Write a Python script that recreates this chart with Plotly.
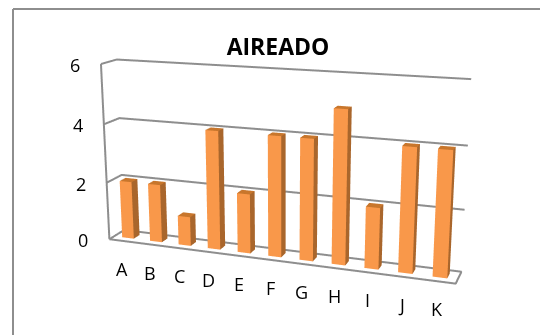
import numpy as np
import plotly.graph_objects as go

# Chart data
categories = ["A", "B", "C", "D", "E", "F", "G", "H", "I", "J", "K"]
values = [2, 2, 1, 4, 2, 4, 4, 5, 2, 4, 4]
value_ticks = [0, 2, 4, 6]
title = "AIREADO"

# Column footprint inside one category slot and the floor depth
BAR_HALF_WIDTH = 0.21
BAR_FRONT, BAR_BACK = 0.32, 0.72

# Homogeneous view transform: (category, depth, value, 1) -> scene x, scene z, camera distance
VIEW = np.array([
    [0.156448, 0.056194, -0.000473, -0.854564],
    [-0.014564, 0.039477, 0.151053, -0.381542],
    [-0.024094, 0.062468, -0.016746, 2.151518],
])
EYE_DISTANCE = 2.0

GREY = "#8E8E8E"
FONT = "Open Sans"


def to_scene(cat, depth, val):
    sx, sz, w = VIEW @ np.array([cat, depth, val, 1.0])
    return float(sx), float(w - EYE_DISTANCE), float(sz)


def quads(faces):
    """Triangulated mesh arguments for a list of four-cornered faces."""
    xs, ys, zs, i, j, k = [], [], [], [], [], []
    for face in faces:
        base = len(xs)
        for corner in face:
            sx, sy, sz = to_scene(*corner)
            xs.append(sx)
            ys.append(sy)
            zs.append(sz)
        i += [base, base]
        j += [base + 1, base + 2]
        k += [base + 2, base + 3]
    return dict(x=xs, y=ys, z=zs, i=i, j=j, k=k)


front, side, top = [], [], []
for idx, val in enumerate(values):
    left = idx + 0.5 - BAR_HALF_WIDTH
    right = idx + 0.5 + BAR_HALF_WIDTH
    front.append([(left, BAR_FRONT, 0), (right, BAR_FRONT, 0), (right, BAR_FRONT, val), (left, BAR_FRONT, val)])
    side.append([(right, BAR_FRONT, 0), (right, BAR_BACK, 0), (right, BAR_BACK, val), (right, BAR_FRONT, val)])
    top.append([(left, BAR_FRONT, val), (right, BAR_FRONT, val), (right, BAR_BACK, val), (left, BAR_BACK, val)])

fig = go.Figure()
flat_light = dict(ambient=1, diffuse=0, specular=0, roughness=1, fresnel=0)
for faces, colour in ((front, "#F9984A"), (side, "#A9662C"), (top, "#C8762C")):
    fig.add_trace(go.Mesh3d(color=colour, flatshading=True, lighting=flat_light, hoverinfo="skip", **quads(faces)))

# Floor outline, left wall edge and value gridlines
line_x, line_y, line_z = [], [], []


def polyline(*corners):
    for corner in corners:
        sx, sy, sz = to_scene(*corner)
        line_x.append(sx)
        line_y.append(sy)
        line_z.append(sz)
    line_x.append(None)
    line_y.append(None)
    line_z.append(None)


n = len(categories)
polyline((0, 0, 0), (n, 0, 0), (n, 1, 0), (0, 1, 0), (0, 0, 0))
polyline((0, 0, 0), (0, 0, value_ticks[-1]))
for tick in value_ticks:
    polyline((0, 0, tick), (0, 1, tick), (n, 1, tick))
fig.add_trace(go.Scatter3d(x=line_x, y=line_y, z=line_z, mode="lines",
                           line=dict(color=GREY, width=4), hoverinfo="skip"))

# Axis labels sit just off the box edges
scene_labels = []
for tick in value_ticks:
    sx, sy, sz = to_scene(0, 0, tick)
    scene_labels.append(dict(x=sx, y=sy, z=sz, text=str(tick), showarrow=False, xshift=-26, yshift=-1,
                             font=dict(family=FONT, size=18, color="#000")))
for idx, name in enumerate(categories):
    sx, sy, sz = to_scene(idx + 0.5, 0, 0)
    scene_labels.append(dict(x=sx, y=sy, z=sz, text=name, showarrow=False, xshift=-1, yshift=-28,
                             font=dict(family=FONT, size=18, color="#000")))


def half_span(coords):
    return max(abs(c) for c in coords if c is not None) * 1.05


rx, ry, rz = half_span(line_x), half_span(line_y), half_span(line_z)

fig.update_layout(
    width=540, height=335, margin=dict(l=0, r=0, t=0, b=0),
    paper_bgcolor="white", showlegend=False,
    title=dict(text=f"<b>{title}</b>", x=278 / 540, y=1 - 47 / 335, xanchor="center", yanchor="middle",
               font=dict(family=FONT, size=23, color="#000")),
    scene=dict(
        domain=dict(x=[0, 1], y=[0, 1]),
        xaxis=dict(visible=False, range=[-rx, rx]),
        yaxis=dict(visible=False, range=[-ry, ry]),
        zaxis=dict(visible=False, range=[-rz, rz]),
        aspectmode="manual",
        aspectratio=dict(x=2 * rx, y=2 * ry, z=2 * rz),
        camera=dict(eye=dict(x=0, y=-EYE_DISTANCE, z=0), center=dict(x=0, y=0, z=0), up=dict(x=0, y=0, z=1)),
        annotations=scene_labels,
    ),
    shapes=[
        dict(type="line", xref="paper", yref="paper", x0=13 / 540, x1=1, y0=1 - 9 / 335, y1=1 - 9 / 335,
             line=dict(color=GREY, width=2)),
        dict(type="line", xref="paper", yref="paper", x0=13 / 540, x1=13 / 540, y0=1 - 9 / 335, y1=0,
             line=dict(color=GREY, width=2)),
    ],
)
fig.write_html("out.html")
